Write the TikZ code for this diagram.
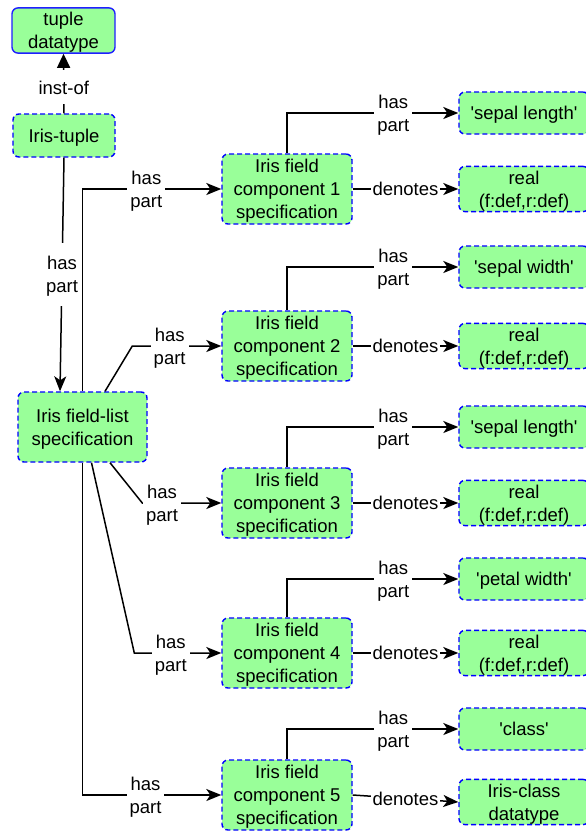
\documentclass[tikz,border=0pt]{standalone}
\usepackage{fontspec}
\setmainfont{Liberation Sans}
\usetikzlibrary{arrows.meta}
\definecolor{boxfill}{HTML}{99FF99}
\definecolor{boxline}{HTML}{0000FF}
\definecolor{solidline}{HTML}{1F1FFF}
\newcommand{\sq}{\textquotesingle}
% struts: uniform height of the first line and depth of the last line
\newcommand{\hs}{\rule{0pt}{18pt}}
\newcommand{\ds}{\rule[-4.2pt]{0pt}{0pt}}
\newcommand{\haspart}{\hs has\\part\ds}

\begin{document}
\begin{tikzpicture}[x=1pt,y=-1pt,
  every node/.style={font=\fontsize{18.5}{23}\selectfont, text=black},
  box/.style={draw=boxline, fill=boxfill, line width=1.4pt,
    dash pattern=on 5pt off 3pt, rounded corners=6pt,
    align=center, inner sep=0pt},
  solidbox/.style={box, draw=solidline, solid},
  compbox/.style={box, minimum width=130pt, minimum height=70pt},
  leafbox/.style={box, minimum width=130pt, minimum height=42pt},
  conn/.style={line width=1.5pt, line join=miter,
    -{Stealth[length=15pt,width=12pt,inset=4pt]}},
  instof/.style={line width=1.5pt, -{Triangle[length=14pt,width=13pt]}},
  lbl/.style={fill=white, inner xsep=3pt, inner ysep=5pt, align=center},
]
\useasboundingbox (0,0) rectangle (586,831);
\clip (0,0) rectangle (586,831);

% left column
\node[solidbox, minimum width=103pt, minimum height=43pt] (td) at (63.5,30.5) {\hs tuple\\datatype\ds};
\node[box, minimum width=102pt, minimum height=43pt] (it) at (64,135.5) {\hs Iris-tuple\ds};
\node[box, minimum width=129pt, minimum height=70pt] (fl) at (82.5,427) {\hs Iris field-list\\specification\ds};

% field components
\node[compbox] (c1) at (287,189) {\hs Iris field\\component 1\\specification\ds};
\node[compbox] (c2) at (287,346) {\hs Iris field\\component 2\\specification\ds};
\node[compbox] (c3) at (287,503) {\hs Iris field\\component 3\\specification\ds};
\node[compbox] (c4) at (287,653) {\hs Iris field\\component 4\\specification\ds};
\node[compbox] (c5) at (287,795) {\hs Iris field\\component 5\\specification\ds};

% names
\node[leafbox] (n1) at (524,113) {\hs\sq sepal length\sq\ds};
\node[leafbox] (n2) at (524,267) {\hs\sq sepal width\sq\ds};
\node[leafbox] (n3) at (524,427) {\hs\sq sepal length\sq\ds};
\node[leafbox] (n4) at (524,579) {\hs\sq petal width\sq\ds};
\node[leafbox] (n5) at (524,729) {\hs\sq class\sq\ds};

% denoted types
\node[leafbox] (d1) at (524,189) {\hs real\\(f:def,r:def)\ds};
\node[leafbox] (d2) at (524,346) {\hs real\\(f:def,r:def)\ds};
\node[leafbox] (d3) at (524,503) {\hs real\\(f:def,r:def)\ds};
\node[leafbox] (d4) at (524,653) {\hs real\\(f:def,r:def)\ds};
\node[leafbox] (d5) at (524,802) {\hs Iris-class\\datatype\ds};

% instance and part-of links on the left
\draw[instof] (it.north) -- node[lbl, inner ysep=6pt, pos=0.44]{\hs inst-of\ds} (td.south);
\draw[conn] (it.south) -- node[lbl, inner ysep=9pt]{\haspart} ([xshift=-22.5pt]fl.north);

\draw[conn] (fl.north) |- node[lbl, pos=0.73]{\haspart} (c1.west);
\draw[conn] ([xshift=22.5pt]fl.north) -- ([xshift=-89pt]c2.west)
  -- node[lbl, pos=0.42]{\haspart} (c2.west);
\draw[conn] ([xshift=27.5pt]fl.south) -- ([xshift=-79pt]c3.west)
  -- node[lbl, pos=0.25]{\haspart} (c3.west);
\draw[conn] ([xshift=9pt]fl.south) -- ([xshift=-87pt]c4.west)
  -- node[lbl, pos=0.42]{\haspart} (c4.west);
\draw[conn] (fl.south) |- node[lbl, pos=0.727]{\haspart} (c5.west);

% component links on the right
\foreach \i in {1,...,5}{
  \draw[conn] (c\i.north) |- node[lbl, pos=0.81]{\haspart} (n\i.west);
  \draw[conn] (c\i.east) -- node[lbl, inner xsep=1.5pt]{denotes} (d\i.west);
}
\end{tikzpicture}
\end{document}
